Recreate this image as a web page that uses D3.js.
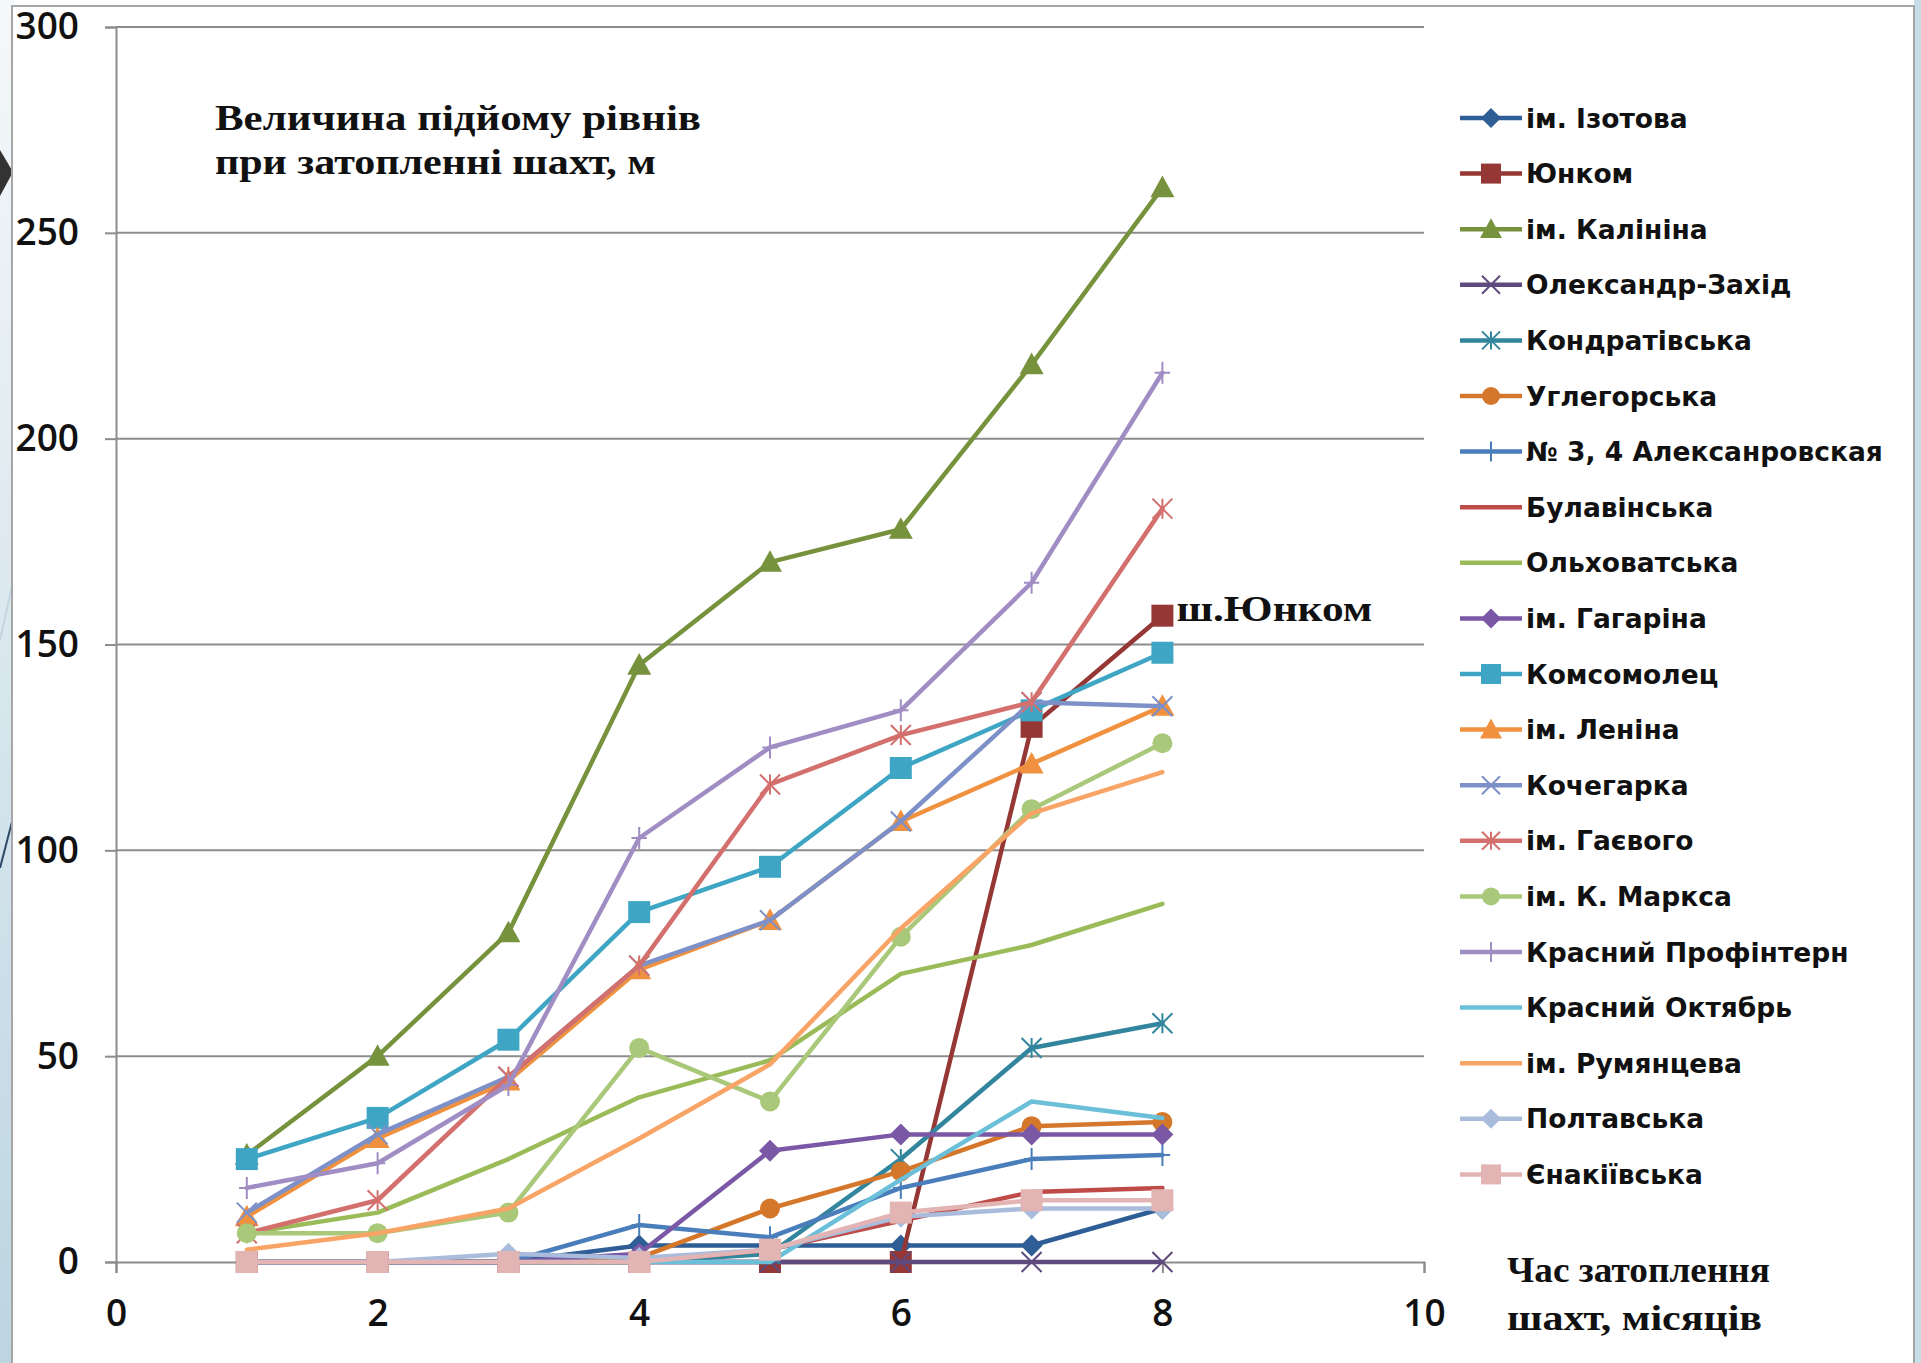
<!DOCTYPE html>
<html>
<head>
<meta charset="utf-8">
<title>Величина підйому рівнів при затопленні шахт</title>
<script src="https://cdn.jsdelivr.net/npm/d3@7"></script>
<style>
	html, body { margin: 0; padding: 0; background: #ffffff; }
	svg { display: block; }
</style>
</head>
<body>
<div id="chart"></div>
<script>

// Months of flooding (x values):
var months = [1, 2, 3, 4, 5, 6, 7, 8];

// Tick labels:
var xTicks = [0, 2, 4, 6, 8, 10],
	yTicks = [0, 50, 100, 150, 200, 250, 300];

// Series names, in legend order:
var mineNames = [
	'ім. Ізотова', 'Юнком', 'ім. Калініна', 'Олександр-Захід', 'Кондратівська',
	'Углегорська', '№ 3, 4 Алексанровская', 'Булавінська', 'Ольховатська', 'ім. Гагаріна',
	'Комсомолец', 'ім. Леніна', 'Кочегарка', 'ім. Гаєвого', 'ім. К. Маркса',
	'Красний Профінтерн', 'Красний Октябрь', 'ім. Румянцева', 'Полтавська', 'Єнакіївська'
];

// Level rise, m:
var izotova       = [0, 0, 0, 4, 4, 4, 4, 13];
var yunkom        = [0, 0, 0, 0, 0, 0, 130, 157];
var kalinina      = [26, 50, 80, 145, 170, 178, 218, 261];
var zakhid        = [0, 0, 0, 0, 0, 0, 0, 0];
var kondrativska  = [0, 0, 0, 0, 2, 25, 52, 58];
var uglegorska    = [0, 0, 0, 1, 13, 22, 33, 34];
var aleksanrovska = [0, 0, 0, 9, 6, 18, 25, 26];
var bulavinska    = [0, 0, 0, 0, 3, 10, 17, 18];
var olkhovatska   = [7, 12, 25, 40, 49, 70, 77, 87];
var gagarina      = [0, 0, 0, 2, 27, 31, 31, 31];
var komsomolets   = [25, 35, 54, 85, 96, 120, 134, 148];
var lenina        = [11, 30, 44, 71, 83, 107, 121, 135];
var kochegarka    = [12, 31, 45, 72, 83, 107, 136, 135];
var gaevogo       = [7, 15, 45, 72, 116, 128, 136, 183];
var marksa        = [7, 7, 12, 52, 39, 79, 110, 126];
var profintern    = [18, 24, 43, 103, 125, 134, 165, 216];
var oktyabr       = [0, 0, 0, 0, 0, 20, 39, 35];
var rumyantseva   = [3, 7, 13, 30, 48, 81, 109, 119];
var poltavska     = [0, 0, 2, 1, 3, 11, 13, 13];
var enakievska    = [0, 0, 0, 0, 3, 12, 15, 15];

var seriesValues = [
	izotova, yunkom, kalinina, zakhid, kondrativska,
	uglegorska, aleksanrovska, bulavinska, olkhovatska, gagarina,
	komsomolets, lenina, kochegarka, gaevogo, marksa,
	profintern, oktyabr, rumyantseva, poltavska, enakievska
];

// Line colours and marker types:
var seriesColors = [
	'#2f5d96', '#953735', '#76923c', '#5f4a7d', '#31859c',
	'#d5772a', '#4a7ebb', '#be4b48', '#9bbb59', '#7b58a6',
	'#3ea6c4', '#f0913f', '#7d91c8', '#d3706d', '#a9c879',
	'#a08dc4', '#6cbfd8', '#f8a466', '#a9bcdc', '#e2b4b3'
];
var seriesMarkers = [
	'diamond', 'square', 'triangle', 'x', 'star',
	'circle', 'plus', 'none', 'none', 'diamond',
	'square', 'triangle', 'x', 'star', 'circle',
	'plus', 'none', 'none', 'diamond', 'square'
];

// Build a table that d3 can iterate:
var series = mineNames.map(function( name, i ) {
	return {
		name: name,
		color: seriesColors[i],
		marker: seriesMarkers[i],
		points: months.map(function( m, j ) { return { x: m, y: seriesValues[i][j] }; })
	};
});

// Canvas:
var width = 1921,
	height = 1363;

var svg = d3.select('#chart').append('svg')
	.attr('width', width)
	.attr('height', height);

// Slide background, left and right of the chart area:
var defs = svg.append('defs');
var grad = defs.append('linearGradient')
	.attr('id', 'slideGrad')
	.attr('x1', 0).attr('y1', 0).attr('x2', 0).attr('y2', 1);
grad.append('stop').attr('offset', '0%').attr('stop-color', '#f5f8fa');
grad.append('stop').attr('offset', '100%').attr('stop-color', '#bcd5e1');

svg.append('rect')
	.attr('x', 0).attr('y', 0)
	.attr('width', 14).attr('height', height)
	.attr('fill', 'url(#slideGrad)');

svg.append('rect')
	.attr('x', 1914).attr('y', 0)
	.attr('width', 7).attr('height', height)
	.attr('fill', '#c7dee8');

svg.append('path')
	.attr('d', 'M0,150L13,172L0,196Z')
	.attr('fill', '#333333');

svg.append('path')
	.attr('d', 'M0,640L13,582')
	.attr('stroke', '#c3d5df')
	.attr('stroke-width', 2);

svg.append('path')
	.attr('d', 'M0,868L13,818')
	.attr('stroke', '#2c4a66')
	.attr('stroke-width', 2);

// Chart area:
svg.append('rect')
	.attr('x', 12).attr('y', 6)
	.attr('width', 1902).attr('height', height + 20)
	.attr('fill', '#ffffff')
	.attr('stroke', '#a6a6a6')
	.attr('stroke-width', 2);

// Scales:
var x = d3.scaleLinear().domain([0, 10]).range([116, 1424]),
	y = d3.scaleLinear().domain([0, 300]).range([1262, 27]);

// Gridlines:
svg.append('g')
	.attr('class', 'grid')
	.selectAll('line')
	.data(yTicks.slice(1))
	.enter().append('line')
		.attr('x1', x(0)).attr('x2', x(10))
		.attr('y1', function( d ) { return y(d); })
		.attr('y2', function( d ) { return y(d); })
		.attr('stroke', '#8c8c8c')
		.attr('stroke-width', 2);

// Axes:
var yAxis = svg.append('g')
	.attr('transform', 'translate(' + x(0) + ',0)')
	.call(d3.axisLeft(y).tickValues(yTicks).tickSize(11).tickPadding(26));

var xAxis = svg.append('g')
	.attr('transform', 'translate(0,' + y(0) + ')')
	.call(d3.axisBottom(x).tickValues(xTicks).tickSize(11).tickPadding(27));

[yAxis, xAxis].forEach(function( ax ) {
	ax.select('.domain').attr('stroke', '#8c8c8c').attr('stroke-width', 2);
	ax.selectAll('.tick line').attr('stroke', '#8c8c8c').attr('stroke-width', 2);
	ax.selectAll('.tick text')
		.attr('fill', '#111111')
		.style('font-family', '"Open Sans", sans-serif')
		.style('font-weight', '600')
		.style('font-size', '37px');
});

// Marker shapes:
function markerPath( type, r ) {
	switch ( type ) {
		case 'diamond': return 'M0,' + (-r) + 'L' + r + ',0L0,' + r + 'L' + (-r) + ',0Z';
		case 'square': return 'M' + (-r) + ',' + (-r) + 'h' + (2*r) + 'v' + (2*r) + 'h' + (-2*r) + 'Z';
		case 'triangle': return 'M0,' + (-r) + 'L' + r + ',' + (0.8*r) + 'L' + (-r) + ',' + (0.8*r) + 'Z';
		case 'circle': return d3.symbol().type(d3.symbolCircle).size(Math.PI * r * r)();
		case 'x': return 'M' + (-r) + ',' + (-r) + 'L' + r + ',' + r + 'M' + (-r) + ',' + r + 'L' + r + ',' + (-r);
		case 'star': return 'M' + (-r) + ',' + (-r) + 'L' + r + ',' + r + 'M' + (-r) + ',' + r + 'L' + r + ',' + (-r) + 'M0,' + (-r) + 'L0,' + r;
		case 'plus': return 'M' + (-0.7*r) + ',0L' + (0.7*r) + ',0M0,' + (-r) + 'L0,' + r;
	}
	return '';
}

function isOpen( type ) {
	return type === 'x' || type === 'star' || type === 'plus';
}

var markerSize = { diamond: 11, square: 11, triangle: 12, circle: 10, x: 10, star: 10, plus: 11 };

// Lines and markers:
var line = d3.line()
	.x(function( d ) { return x(d.x); })
	.y(function( d ) { return y(d.y); });

var layer = svg.append('g').attr('class', 'series')
	.selectAll('g')
	.data(series)
	.enter().append('g');

layer.append('path')
	.attr('d', function( d ) { return line(d.points); })
	.attr('fill', 'none')
	.attr('stroke', function( d ) { return d.color; })
	.attr('stroke-width', 4.5)
	.attr('stroke-linejoin', 'round')
	.attr('stroke-linecap', 'round');

layer.each(function( s ) {
	if ( s.marker === 'none' ) { return; }
	d3.select(this).selectAll('path.marker')
		.data(s.points)
		.enter().append('path')
			.attr('class', 'marker')
			.attr('transform', function( d ) { return 'translate(' + x(d.x) + ',' + y(d.y) + ')'; })
			.attr('d', markerPath(s.marker, markerSize[s.marker]))
			.attr('fill', isOpen(s.marker) ? 'none' : s.color)
			.attr('stroke', s.color)
			.attr('stroke-width', isOpen(s.marker) ? 2 : 0);
});

// Legend:
var legend = svg.append('g')
	.attr('class', 'legend')
	.attr('transform', 'translate(1460,118)');

var entry = legend.selectAll('g')
	.data(series)
	.enter().append('g')
		.attr('transform', function( d, i ) { return 'translate(0,' + (i * 55.6) + ')'; });

entry.append('line')
	.attr('x1', 0).attr('x2', 62)
	.attr('y1', 0).attr('y2', 0)
	.attr('stroke', function( d ) { return d.color; })
	.attr('stroke-width', 4.5);

entry.filter(function( d ) { return d.marker !== 'none'; })
	.append('path')
		.attr('transform', 'translate(31,0)')
		.attr('d', function( d ) { return markerPath(d.marker, markerSize[d.marker] - 1); })
		.attr('fill', function( d ) { return isOpen(d.marker) ? 'none' : d.color; })
		.attr('stroke', function( d ) { return d.color; })
		.attr('stroke-width', function( d ) { return isOpen(d.marker) ? 2 : 0; });

entry.append('text')
	.attr('x', 66)
	.attr('y', 0)
	.attr('dy', '0.36em')
	.attr('fill', '#111111')
	.style('font-family', '"DejaVu Sans", sans-serif')
	.style('font-weight', 'bold')
	.style('font-size', '26.5px')
	.text(function( d ) { return d.name; });

// Titles (serif, as on the slide):
function serifText( txt, tx, ty, len ) {
	svg.append('text')
		.attr('x', tx)
		.attr('y', ty)
		.attr('textLength', len)
		.attr('lengthAdjust', 'spacingAndGlyphs')
		.attr('fill', '#111111')
		.style('font-family', '"Liberation Serif", serif')
		.style('font-weight', 'bold')
		.style('font-size', '36px')
		.text(txt);
}

serifText('Величина підйому  рівнів', 215, 130, 486);
serifText('при затопленні шахт, м', 215, 174, 441);
serifText('Час затоплення', 1507, 1282, 263);
serifText('шахт, місяців', 1507, 1330, 255);

// Annotation for the Юнком curve:
serifText('ш.Юнком', x(8) + 14, y(157) + 5, 196);

</script>
</body>
</html>
